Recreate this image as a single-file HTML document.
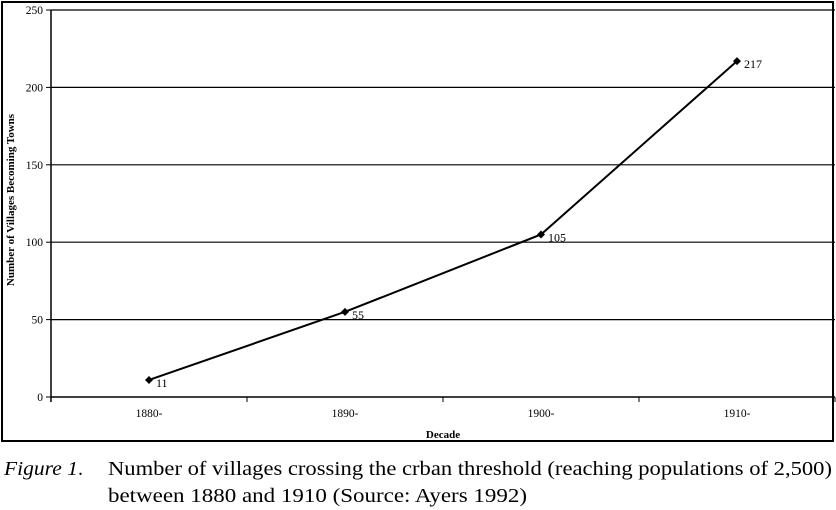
<!DOCTYPE html>
<html><head><meta charset="utf-8"><style>
body{margin:0;background:#fff;width:836px;height:510px;overflow:hidden;font-family:"Liberation Serif",serif;}
svg{position:absolute;left:0;top:0}
</style></head><body>
<svg width="836" height="446" id="chart"></svg>
<svg width="836" height="64" style="top:446px">
<text x="4" y="29" font-size="20" font-style="italic" textLength="74" lengthAdjust="spacingAndGlyphs">Figure 1</text>
<text x="78" y="29" font-size="20">.</text>
<text x="108" y="29" font-size="20" textLength="724" lengthAdjust="spacingAndGlyphs">Number of villages crossing the crban threshold (reaching populations of 2,500)</text>
<text x="108" y="56" font-size="20" textLength="419" lengthAdjust="spacingAndGlyphs">between 1880 and 1910 (Source: Ayers 1992)</text>
</svg>
<script>
const categories=["1880-","1890-","1900-","1910-"];
const values=[11,55,105,217];
const yTicks=[0,50,100,150,200,250];
const NS="http://www.w3.org/2000/svg";
const svg=document.getElementById('chart');
const L=51,R=835,T=10,B=397,yMax=250;
const bw=(R-L)/categories.length;
const xs=i=>L+bw*(i+0.5);
const ys=v=>B-(v/yMax)*(B-T);
function mk(tag,attrs,txt){const e=document.createElementNS(NS,tag);for(const k in attrs)e.setAttribute(k,attrs[k]);if(txt!==undefined)e.textContent=txt;svg.appendChild(e);return e;}
let e=mk('rect',{x:2,y:2,width:831,height:439,fill:'none',stroke:'#000','stroke-width':2});


yTicks.forEach(t=>{
  if(t>0){e=mk('line',{x1:L,x2:R,y1:ys(t),y2:ys(t),stroke:'#000','stroke-width':1.2});
  
  }
  e=mk('line',{x1:L-5,x2:L,y1:ys(t),y2:ys(t),stroke:'#000'});
  
  
  e=mk('text',{x:L-8,y:ys(t)+4,'text-anchor':'end','font-size':11.5},t);
  
  
});
e=mk('line',{x1:L,x2:L,y1:T,y2:B+5,stroke:'#000','stroke-width':1.5});


e=mk('line',{x1:L,x2:R,y1:B,y2:B,stroke:'#000','stroke-width':1.5});


categories.forEach((c,i)=>{
  e=mk('line',{x1:L+bw*(i+1),x2:L+bw*(i+1),y1:B,y2:B+5,stroke:'#000'});
  
  
  e=mk('text',{x:xs(i),y:B+20,'text-anchor':'middle','font-size':11.5},c);
  
  
});
e=mk('polyline',{points:values.map((v,i)=>xs(i)+','+ys(v)).join(' '),fill:'none',stroke:'#000','stroke-width':2});


values.forEach((v,i)=>{
  const x=xs(i),y=ys(v);
  e=mk('polygon',{points:`${x},${y-4} ${x+4},${y} ${x},${y+4} ${x-4},${y}`,fill:'#000'});
  
  
  e=mk('text',{x:x+7,y:y+7,'font-size':12},v);
  
  
});
e=mk('text',{x:443,y:438,'text-anchor':'middle','font-size':11,'font-weight':'bold'},'Decade');


e=mk('text',{x:0,y:0,'text-anchor':'middle','font-size':11,'font-weight':'bold',transform:'translate(14,200) rotate(-90)'},'Number of Villages Becoming Towns');


</script>
</body></html>
